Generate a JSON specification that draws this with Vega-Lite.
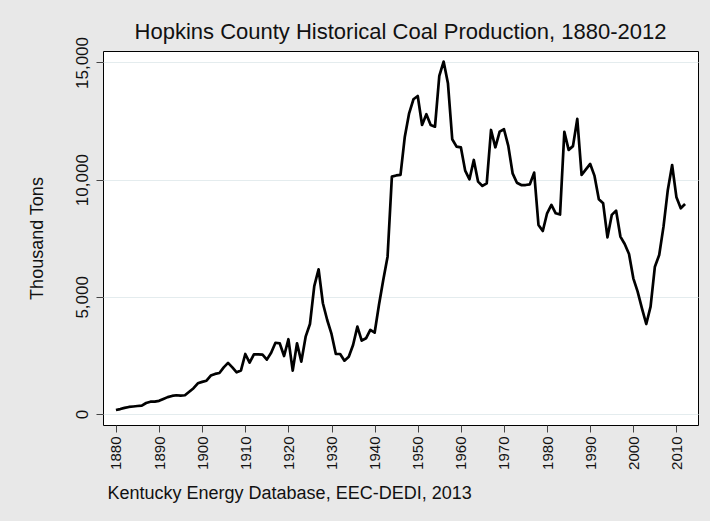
{
  "$schema": "https://vega.github.io/schema/vega-lite/v6.json",
  "width": 595,
  "height": 374,
  "autosize": "none",
  "padding": {"left": 103, "top": 51, "right": 12, "bottom": 96},
  "background": "#e8e8e8",
  "title": {
    "text": "Hopkins County Historical Coal Production, 1880-2012",
    "font": "Liberation Sans",
    "fontSize": 22,
    "fontWeight": "normal",
    "color": "#111111",
    "anchor": "middle",
    "frame": "group",
    "baseline": "bottom",
    "offset": 5,
    "dy": 35
  },
  "config": {
    "view": {"fill": "white", "stroke": "#000000", "strokeWidth": 1},
    "axis": {"labelFont": "Liberation Sans", "titleFont": "Liberation Sans", "labelColor": "#111111", "titleColor": "#111111", "tickColor": "#444444", "titleFontWeight": "normal"}
  },
  "data": {
    "values": [
      {"year": 1880, "tons": 170}, {"year": 1881, "tons": 210}, {"year": 1882, "tons": 260}, {"year": 1883, "tons": 300},
      {"year": 1884, "tons": 320}, {"year": 1885, "tons": 340}, {"year": 1886, "tons": 360}, {"year": 1887, "tons": 470},
      {"year": 1888, "tons": 525}, {"year": 1889, "tons": 525}, {"year": 1890, "tons": 560}, {"year": 1891, "tons": 640},
      {"year": 1892, "tons": 720}, {"year": 1893, "tons": 770}, {"year": 1894, "tons": 800}, {"year": 1895, "tons": 780},
      {"year": 1896, "tons": 800}, {"year": 1897, "tons": 950}, {"year": 1898, "tons": 1100}, {"year": 1899, "tons": 1310},
      {"year": 1900, "tons": 1370}, {"year": 1901, "tons": 1420}, {"year": 1902, "tons": 1640}, {"year": 1903, "tons": 1710},
      {"year": 1904, "tons": 1750}, {"year": 1905, "tons": 1990}, {"year": 1906, "tons": 2180}, {"year": 1907, "tons": 1990},
      {"year": 1908, "tons": 1780}, {"year": 1909, "tons": 1860}, {"year": 1910, "tons": 2560}, {"year": 1911, "tons": 2190},
      {"year": 1912, "tons": 2545}, {"year": 1913, "tons": 2540}, {"year": 1914, "tons": 2530}, {"year": 1915, "tons": 2320},
      {"year": 1916, "tons": 2610}, {"year": 1917, "tons": 3040}, {"year": 1918, "tons": 3010}, {"year": 1919, "tons": 2475},
      {"year": 1920, "tons": 3190}, {"year": 1921, "tons": 1850}, {"year": 1922, "tons": 3015}, {"year": 1923, "tons": 2235},
      {"year": 1924, "tons": 3300}, {"year": 1925, "tons": 3840}, {"year": 1926, "tons": 5460}, {"year": 1927, "tons": 6175},
      {"year": 1928, "tons": 4725}, {"year": 1929, "tons": 4010}, {"year": 1930, "tons": 3415}, {"year": 1931, "tons": 2560},
      {"year": 1932, "tons": 2560}, {"year": 1933, "tons": 2275}, {"year": 1934, "tons": 2445}, {"year": 1935, "tons": 2945},
      {"year": 1936, "tons": 3730}, {"year": 1937, "tons": 3130}, {"year": 1938, "tons": 3230}, {"year": 1939, "tons": 3585},
      {"year": 1940, "tons": 3470}, {"year": 1941, "tons": 4650}, {"year": 1942, "tons": 5720}, {"year": 1943, "tons": 6715},
      {"year": 1944, "tons": 10130}, {"year": 1945, "tons": 10180}, {"year": 1946, "tons": 10200}, {"year": 1947, "tons": 11835},
      {"year": 1948, "tons": 12830}, {"year": 1949, "tons": 13430}, {"year": 1950, "tons": 13570}, {"year": 1951, "tons": 12335},
      {"year": 1952, "tons": 12790}, {"year": 1953, "tons": 12335}, {"year": 1954, "tons": 12260}, {"year": 1955, "tons": 14430},
      {"year": 1956, "tons": 15040}, {"year": 1957, "tons": 14115}, {"year": 1958, "tons": 11725}, {"year": 1959, "tons": 11410},
      {"year": 1960, "tons": 11380}, {"year": 1961, "tons": 10385}, {"year": 1962, "tons": 10015}, {"year": 1963, "tons": 10840},
      {"year": 1964, "tons": 9915}, {"year": 1965, "tons": 9730}, {"year": 1966, "tons": 9845}, {"year": 1967, "tons": 12120},
      {"year": 1968, "tons": 11380}, {"year": 1969, "tons": 12050}, {"year": 1970, "tons": 12150}, {"year": 1971, "tons": 11440},
      {"year": 1972, "tons": 10270}, {"year": 1973, "tons": 9870}, {"year": 1974, "tons": 9770}, {"year": 1975, "tons": 9770},
      {"year": 1976, "tons": 9800}, {"year": 1977, "tons": 10300}, {"year": 1978, "tons": 8065}, {"year": 1979, "tons": 7810},
      {"year": 1980, "tons": 8565}, {"year": 1981, "tons": 8920}, {"year": 1982, "tons": 8565}, {"year": 1983, "tons": 8510},
      {"year": 1984, "tons": 12040}, {"year": 1985, "tons": 11270}, {"year": 1986, "tons": 11430}, {"year": 1987, "tons": 12590},
      {"year": 1988, "tons": 10200}, {"year": 1989, "tons": 10440}, {"year": 1990, "tons": 10670}, {"year": 1991, "tons": 10160},
      {"year": 1992, "tons": 9160}, {"year": 1993, "tons": 8990}, {"year": 1994, "tons": 7540}, {"year": 1995, "tons": 8495},
      {"year": 1996, "tons": 8680}, {"year": 1997, "tons": 7570}, {"year": 1998, "tons": 7255}, {"year": 1999, "tons": 6830},
      {"year": 2000, "tons": 5790}, {"year": 2001, "tons": 5220}, {"year": 2002, "tons": 4510}, {"year": 2003, "tons": 3840},
      {"year": 2004, "tons": 4580}, {"year": 2005, "tons": 6285}, {"year": 2006, "tons": 6785}, {"year": 2007, "tons": 7995},
      {"year": 2008, "tons": 9560}, {"year": 2009, "tons": 10625}, {"year": 2010, "tons": 9245}, {"year": 2011, "tons": 8780},
      {"year": 2012, "tons": 8960}
    ]
  },
  "mark": {"type": "line", "color": "#000000", "strokeWidth": 2.7, "strokeJoin": "round"},
  "encoding": {
    "x": {
      "field": "year",
      "type": "quantitative",
      "scale": {"domain": [1877, 2015], "nice": false, "zero": false},
      "axis": {
        "values": [1880, 1890, 1900, 1910, 1920, 1930, 1940, 1950, 1960, 1970, 1980, 1990, 2000, 2010],
        "format": "d",
        "grid": false,
        "domain": false,
        "tickSize": 7,
        "labelAngle": 270,
        "labelAlign": "right",
        "labelBaseline": "middle",
        "labelPadding": 4,
        "labelFontSize": 15,
        "labelFlush": false,
        "labelOverlap": false,
        "title": "Kentucky Energy Database, EEC-DEDI, 2013",
        "titleFontSize": 18,
        "titleAnchor": "start",
        "titleAlign": "left",
        "titleBaseline": "alphabetic",
        "titleX": 4,
        "titleY": 73
      }
    },
    "y": {
      "field": "tons",
      "type": "quantitative",
      "scale": {"domain": [-470, 15490], "nice": false, "zero": false},
      "axis": {
        "values": [0, 5000, 10000, 15000],
        "format": ",d",
        "grid": true,
        "gridColor": "#e4ecee",
        "gridWidth": 1.2,
        "domain": false,
        "tickSize": 7,
        "labelAngle": 270,
        "labelAlign": "center",
        "labelBaseline": "bottom",
        "labelPadding": 5,
        "labelFontSize": 17,
        "labelFlush": false,
        "title": "Thousand Tons",
        "titleFontSize": 18,
        "titleAngle": 270,
        "titleAlign": "center",
        "titleBaseline": "alphabetic",
        "titleX": -61,
        "titleY": 187
      }
    }
  }
}
